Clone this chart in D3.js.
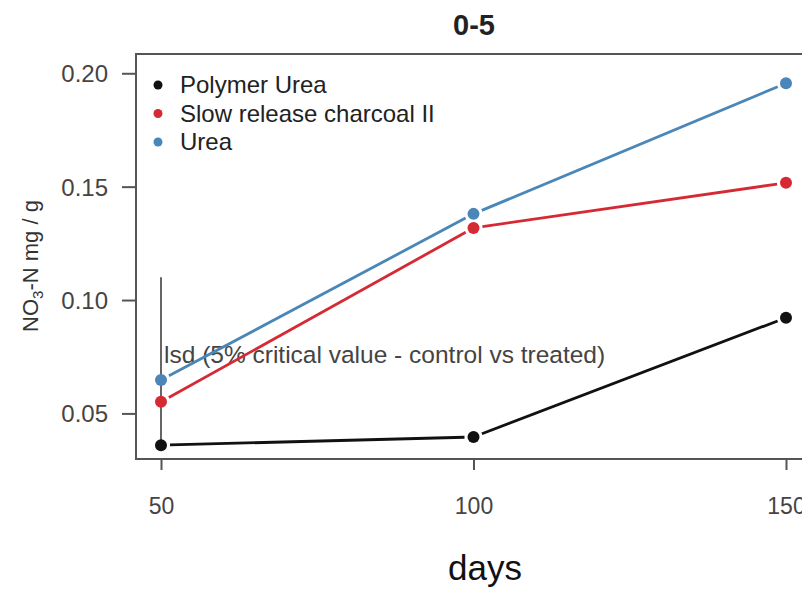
<!DOCTYPE html>
<html><head><meta charset="utf-8">
<script src="https://cdn.jsdelivr.net/npm/d3@7"></script>
<style>body{margin:0;background:#fff}svg{display:block}text{font-family:"Liberation Sans",Arial,sans-serif}</style>
</head><body>
<script>
const days = [50, 100, 150];
const seriesNames = ["Polymer Urea", "Slow release charcoal II", "Urea"];
const polymerUrea = [0.036, 0.0396, 0.0922];
const slowRelease = [0.0551, 0.1318, 0.1517];
const urea = [0.0647, 0.138, 0.1956];
const colors = ["#111111", "#d52a34", "#4a86b8"];
const yTicks = [0.05, 0.10, 0.15, 0.20];
const xTicks = [50, 100, 150];
const lsdRange = [0.036, 0.1101];
const lsdLabel = "lsd (5% critical value - control vs treated)";

const W = 802, H = 590;
const svg = d3.select("body").append("svg").attr("width", W).attr("height", H);
const x = d3.scaleLinear().domain([46, 154]).range([136, 811]);
const y = d3.scaleLinear().domain([0.0299, 0.2085]).range([459, 54]);

const series = [polymerUrea, slowRelease, urea];
const axisCol = "#555";

// box
svg.append("rect").attr("x", 136).attr("y", 54).attr("width", 675).attr("height", 405)
  .attr("fill", "none").attr("stroke", axisCol).attr("stroke-width", 2);

// y axis
const yAxis = svg.append("g").attr("transform", "translate(136,0)")
  .call(d3.axisLeft(y).tickValues(yTicks).tickSize(14).tickPadding(14).tickFormat(d3.format(".2f")));
yAxis.select(".domain").remove();
yAxis.selectAll("line").attr("stroke", axisCol).attr("stroke-width", 2);
yAxis.selectAll("text").attr("font-size", 24).attr("fill", "#444").attr("dy", "0.35em");

// x axis
const xAxis = svg.append("g").attr("transform", "translate(0,459)")
  .call(d3.axisBottom(x).tickValues(xTicks).tickSize(11).tickPadding(28));
xAxis.select(".domain").remove();
xAxis.selectAll("line").attr("stroke", axisCol).attr("stroke-width", 2);
xAxis.selectAll("text").attr("font-size", 23).attr("fill", "#444");

// title
svg.append("text").attr("x", 474).attr("y", 35).attr("text-anchor", "middle")
  .attr("font-size", 29).attr("font-weight", "bold").attr("fill", "#222").text("0-5");

// x label
svg.append("text").attr("x", 485).attr("y", 580).attr("text-anchor", "middle")
  .attr("font-size", 35).attr("fill", "#111").text("days");

// y label
const yl = svg.append("text").attr("transform", "translate(38,266) rotate(-90)")
  .attr("text-anchor", "middle").attr("font-size", 22).attr("fill", "#333");
yl.append("tspan").text("NO");
yl.append("tspan").attr("font-size", 15).attr("dy", 5).text("3");
yl.append("tspan").attr("dy", -5).text("-N mg / g");

// lsd line
svg.append("line").attr("x1", x(50)).attr("x2", x(50))
  .attr("y1", y(lsdRange[0])).attr("y2", y(lsdRange[1]))
  .attr("stroke", "#666").attr("stroke-width", 2);
svg.append("text").attr("x", x(50) + 3).attr("y", 363).attr("font-size", 24.5)
  .attr("fill", "#444").text(lsdLabel);

// lines with gaps (type "b")
const gap = 9;
series.forEach((vals, si) => {
  for (let i = 0; i < days.length - 1; i++) {
    const x1 = x(days[i]), y1 = y(vals[i]), x2 = x(days[i + 1]), y2 = y(vals[i + 1]);
    const dx = x2 - x1, dy = y2 - y1, L = Math.hypot(dx, dy);
    svg.append("line")
      .attr("x1", x1 + dx / L * gap).attr("y1", y1 + dy / L * gap)
      .attr("x2", x2 - dx / L * gap).attr("y2", y2 - dy / L * gap)
      .attr("stroke", colors[si]).attr("stroke-width", 2.8);
  }
});
series.forEach((vals, si) => {
  svg.selectAll(null).data(vals).enter().append("circle")
    .attr("cx", (d, i) => x(days[i])).attr("cy", d => y(d)).attr("r", 6)
    .attr("fill", colors[si]);
});

// legend
const lg = svg.append("g");
seriesNames.forEach((n, i) => {
  const yy = 85 + i * 28.5;
  lg.append("circle").attr("cx", 158).attr("cy", yy).attr("r", 4.5).attr("fill", colors[i]);
  lg.append("text").attr("x", 180).attr("y", yy).attr("dy", "0.35em").attr("font-size", 24)
    .attr("fill", "#222").text(n);
});
</script>
</body></html>
